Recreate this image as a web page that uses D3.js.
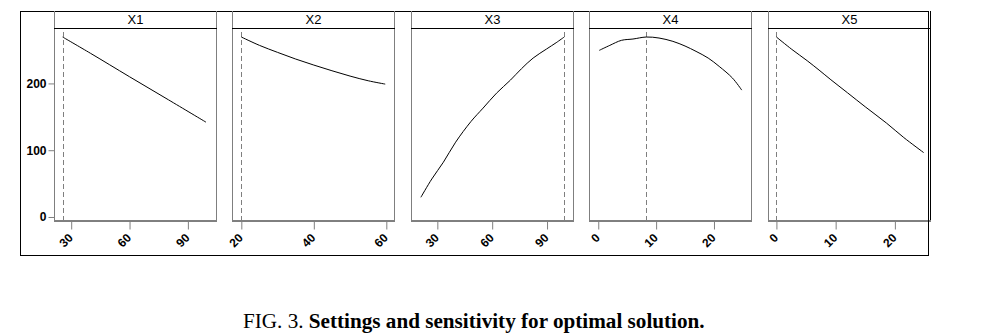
<!DOCTYPE html>
<html><head><meta charset="utf-8">
<script src="https://cdn.jsdelivr.net/npm/d3@7"></script>
<style>
html,body{margin:0;padding:0;background:#fff;}
svg{display:block;}
</style></head>
<body>
<script>
// ---- data ----
const factors = ["X1", "X2", "X3", "X4", "X5"];
const xDomains = [[21.16, 104.46], [17.43, 62.12], [15.6, 104.2], [-1.6, 26.4], [-1.42, 25.93]];
const xTicks = [[30, 60, 90], [20, 40, 60], [30, 60, 90], [0, 10, 20], [0, 10, 20]];
const optimal = [25.6, 20, 99.4, 8.3, 0];
const x1X = [25.6, 40, 60, 80, 99.3];
const x1Y = [269.5, 245, 210, 175.5, 142];
const x2X = [20, 25, 30, 35, 40, 45, 50, 55, 59.7];
const x2Y = [269.5, 257, 246.5, 236.5, 227.5, 219, 211, 204, 199];
const x3X = [21, 27, 33.3, 40, 48.4, 55, 62.4, 70, 76, 82.4, 89.7, 95, 99.4];
const x3Y = [29.5, 57, 82, 112, 143, 163, 185.5, 205, 222, 238, 251.5, 261, 269.5];
const x4X = [0.17, 2, 4, 6, 8.3, 10.5, 12.9, 15, 16.9, 19, 20.9, 23.2, 24.8];
const x4Y = [249.5, 257, 264.5, 266.5, 269.5, 268, 263, 256, 248, 238, 225.5, 208, 190];
const x5X = [0, 2.6, 5.2, 7.2, 9.2, 12, 15, 18.6, 21.5, 24.85];
const x5Y = [269.5, 251, 234, 220, 205.5, 186, 165, 140.5, 119, 96.5];
const yTicks = [0, 100, 200];
const caption1 = "FIG. 3. ";
const caption2 = "Settings and sensitivity for optimal solution.";

const seriesX = [x1X, x2X, x3X, x4X, x5X];
const seriesY = [x1Y, x2Y, x3Y, x4Y, x5Y];

// ---- layout ----
const W = 982, H = 335;
const svg = d3.select("body").append("svg").attr("width", W).attr("height", H);
const frameL = 20, frameT = 11, frameR = 928, frameB = 255;
const stripH = 17;
const plotT = frameT + stripH, plotB = 220;
const panelLefts = [54, 232, 411, 589, 768];
const panelW = 162;
const gray = "#7f7f7f";

const y = d3.scaleLinear().domain([-4.5, 283]).range([plotB, plotT]);

// outer frame
svg.append("rect").attr("x", frameL + 0.5).attr("y", frameT + 0.5)
  .attr("width", frameR - frameL).attr("height", frameB - frameT)
  .attr("fill", "none").attr("stroke", "#000").attr("stroke-width", 1);

// y axis (left of first panel)
const yAxis = d3.axisLeft(y).tickValues(yTicks).tickSize(6).tickPadding(2).tickFormat(d3.format("d"));
const yg = svg.append("g").attr("transform", `translate(${panelLefts[0] + 0.5},0)`).call(yAxis);
yg.select(".domain").remove();
yg.selectAll(".tick line").attr("stroke", gray);
yg.selectAll(".tick text").attr("font-family", "Liberation Sans, Arial, sans-serif")
  .attr("font-size", 12).attr("font-weight", "bold").attr("fill", "#000");

factors.forEach((f, i) => {
  const L = panelLefts[i], R = L + panelW;
  const x = d3.scaleLinear().domain(xDomains[i]).range([L, R]);
  const g = svg.append("g");

  // strip
  g.append("line").attr("x1", L + 0.5).attr("x2", L + 0.5).attr("y1", frameT).attr("y2", plotB).attr("stroke", gray);
  g.append("line").attr("x1", R + 0.5).attr("x2", R + 0.5).attr("y1", frameT).attr("y2", plotB).attr("stroke", i === 4 ? "#000" : gray);
  g.append("line").attr("x1", L).attr("x2", R + 1).attr("y1", plotT + 0.5).attr("y2", plotT + 0.5).attr("stroke", "#000");
  g.append("text").attr("x", (L + R) / 2 + 0.5).attr("y", plotT - 4)
    .attr("text-anchor", "middle").attr("font-family", "Liberation Sans Narrow, Arial Narrow, Liberation Sans, sans-serif")
    .attr("font-size", 13).attr("fill", "#000").text(f);

  // x axis
  const xAxis = d3.axisBottom(x).tickValues(xTicks[i]).tickSize(9).tickFormat(d3.format("d"));
  const xg = g.append("g").attr("transform", `translate(0,${plotB + 0.5})`).call(xAxis);
  xg.select(".domain").attr("d", `M${L},0.5H${R + 1}`).attr("stroke", "#000");
  xg.selectAll(".tick line").attr("stroke", gray);
  xg.selectAll(".tick text")
    .attr("font-family", "Liberation Sans, Arial, sans-serif").attr("font-size", 12)
    .attr("font-weight", "bold").attr("fill", "#000")
    .attr("text-anchor", "end").attr("dy", 0).attr("y", 0)
    .attr("transform", "translate(2,18) rotate(-45)");

  // optimal dashed line
  g.append("line").attr("x1", Math.round(x(optimal[i])) + 0.5).attr("x2", Math.round(x(optimal[i])) + 0.5)
    .attr("y1", 32).attr("y2", plotB).attr("stroke", gray).attr("stroke-dasharray", "5,3");

  // curve
  const pts = seriesX[i].map((v, k) => [v, seriesY[i][k]]);
  const line = d3.line().x(d => x(d[0])).y(d => y(d[1])).curve(d3.curveCatmullRom.alpha(0.5));
  g.append("path").attr("d", line(pts)).attr("fill", "none").attr("stroke", "#000").attr("stroke-width", 1);
});

// caption
const cap = svg.append("text").attr("x", 243).attr("y", 328)
  .attr("font-family", "Liberation Serif, Times New Roman, serif").attr("font-size", 17).attr("fill", "#000");
cap.append("tspan").text(caption1);
cap.append("tspan").attr("font-weight", "bold").text(caption2);
const w = cap.node().getComputedTextLength();
cap.attr("font-size", 17 * 462 / w);
</script>
</body></html>
